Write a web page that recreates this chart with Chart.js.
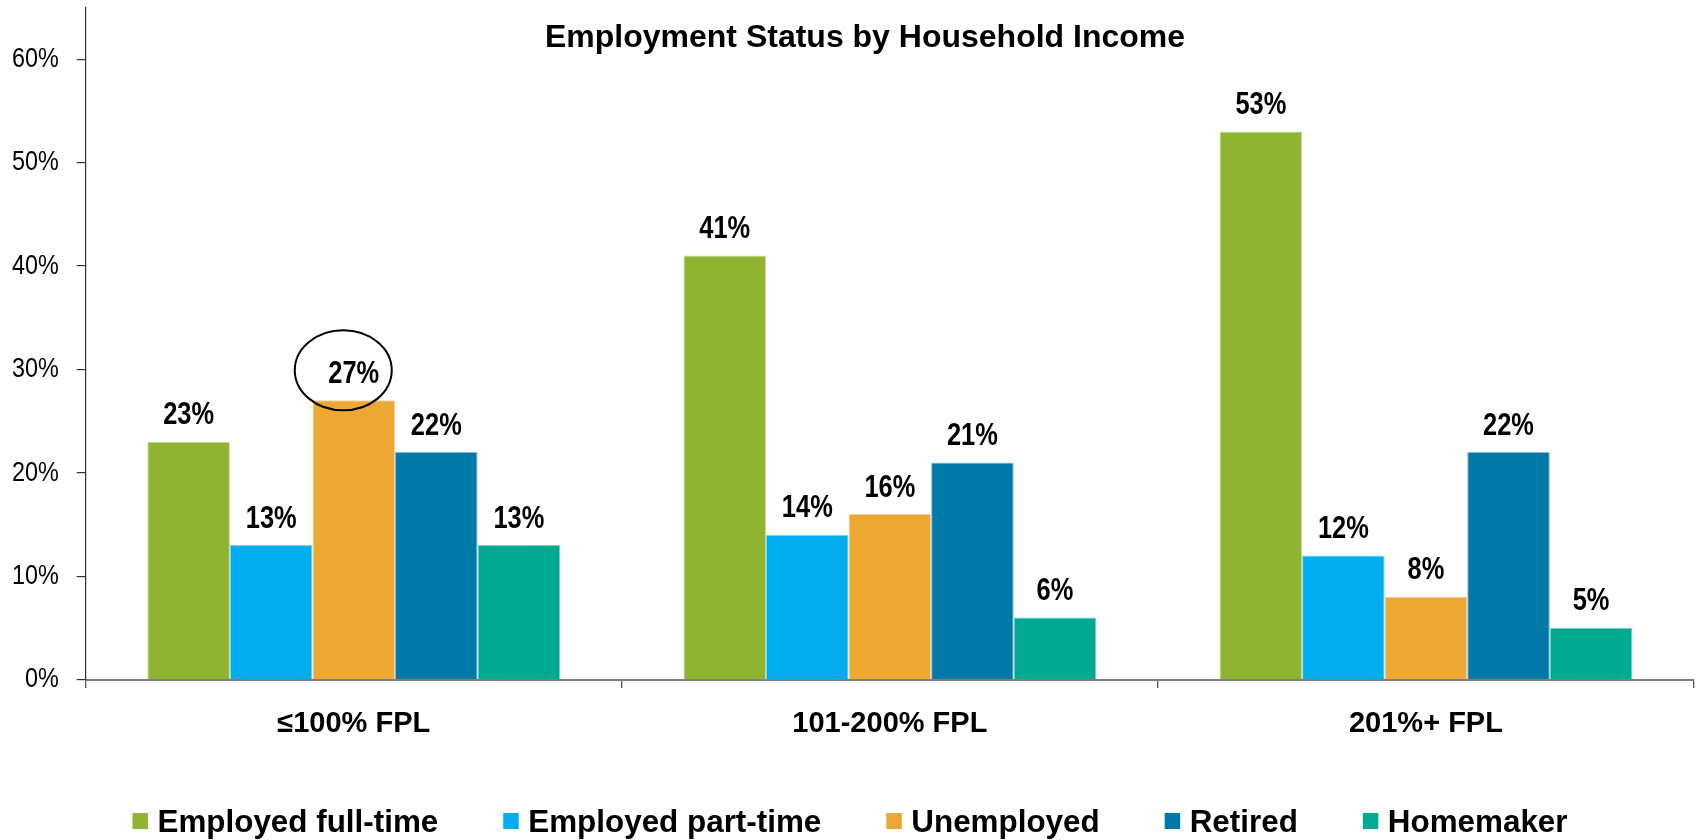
<!DOCTYPE html>
<html>
<head>
<meta charset="utf-8">
<title>Employment Status by Household Income</title>
<script src="https://cdn.jsdelivr.net/npm/chart.js@4.4.1/dist/chart.umd.min.js"></script>
<style>
  html, body { margin: 0; padding: 0; background: #ffffff; }
  #wrap { width: 1700px; height: 840px; }
</style>
</head>
<body>
<div id="wrap"><canvas id="chart" width="1700" height="840"></canvas></div>
<script>
// Income groups along the x axis
const categories = ['≤100% FPL', '101-200% FPL', '201%+ FPL'];

// Share of adults in each employment status, per income group (%)
const employedFullTime = [23, 41, 53];
const employedPartTime = [13, 14, 12];
const unemployed       = [27, 16, 8];
const retired          = [22, 21, 22];
const homemaker        = [13, 6, 5];

const seriesNames  = ['Employed full-time', 'Employed part-time', 'Unemployed', 'Retired', 'Homemaker'];
const seriesValues = [employedFullTime, employedPartTime, unemployed, retired, homemaker];
const seriesColors = ['#8fb432', '#00adee', '#eda733', '#0079a9', '#00a990'];
const seriesEdges  = ['#c8dc98', '#80d6f6', '#f6d399', '#80bcd4', '#80d4c7'];

// Value axis ticks (%)
const yTickValues = [0, 10, 20, 30, 40, 50, 60];

const chartTitle = 'Employment Status by Household Income';

const SANS = "'Liberation Sans', Arial, sans-serif";
// Condensed lettering: regular face squeezed horizontally
const CONDENSE = 0.82;

function drawCondensed(ctx, text, x, y, align) {
  ctx.save();
  ctx.translate(x, y);
  ctx.scale(CONDENSE, 1);
  ctx.textAlign = align;
  ctx.fillText(text, 0, 0);
  ctx.restore();
}

// Bold value above each bar
const valueLabels = {
  id: 'valueLabels',
  afterDatasetsDraw(chart) {
    const ctx = chart.ctx;
    ctx.save();
    ctx.font = "bold 31px " + SANS;
    ctx.fillStyle = '#000000';
    ctx.textBaseline = 'alphabetic';
    chart.data.datasets.forEach((ds, di) => {
      chart.getDatasetMeta(di).data.forEach((bar, i) => {
        drawCondensed(ctx, ds.data[i] + '%', bar.x, bar.y - 17.5, 'center');
      });
    });
    ctx.restore();
  }
};

// Percent labels beside the value axis ticks
const yTickLabels = {
  id: 'yTickLabels',
  afterDraw(chart) {
    const scale = chart.scales.y;
    const ctx = chart.ctx;
    ctx.save();
    ctx.font = "28.5px " + SANS;
    ctx.fillStyle = '#000000';
    ctx.textBaseline = 'middle';
    scale.ticks.forEach(t => {
      drawCondensed(ctx, t.value + '%', scale.right - 9 - 18, scale.getPixelForValue(t.value), 'right');
    });
    ctx.restore();
  }
};

// Circle drawn around the unemployed share of the lowest income group
const highlight = { series: 'Unemployed', index: 0 };
const highlightRing = {
  id: 'highlightRing',
  afterDatasetsDraw(chart) {
    const di = chart.data.datasets.findIndex(d => d.label === highlight.series);
    if (di < 0) return;
    const bar = chart.getDatasetMeta(di).data[highlight.index];
    const ctx = chart.ctx;
    ctx.save();
    ctx.beginPath();
    ctx.ellipse(bar.x - 10.5, bar.y - 30, 48.5, 40, 0, 0, Math.PI * 2);
    ctx.lineWidth = 2;
    ctx.strokeStyle = '#000000';
    ctx.stroke();
    ctx.restore();
  }
};

// Title laid over the top of the plot
const overlayTitle = {
  id: 'overlayTitle',
  afterDraw(chart) {
    const ctx = chart.ctx;
    ctx.save();
    ctx.font = "bold 32px " + SANS;
    ctx.fillStyle = '#000000';
    ctx.textAlign = 'center';
    ctx.textBaseline = 'alphabetic';
    ctx.fillText(chartTitle, chart.width / 2 + 15, 46.5);
    ctx.restore();
  }
};

// Single-row legend along the bottom edge
const bottomLegend = {
  id: 'bottomLegend',
  afterDraw(chart) {
    const ctx = chart.ctx;
    const box = 15.5, gap = 9.5, spacing = 65;
    ctx.save();
    ctx.font = "bold 31.4px " + SANS;
    const items = chart.data.datasets.map(ds => ({
      text: ds.label,
      color: ds.backgroundColor,
      w: ctx.measureText(ds.label).width
    }));
    const total = items.reduce((s, it) => s + box + gap + it.w, 0) + spacing * (items.length - 1);
    let x = chart.width / 2 - total / 2;
    ctx.textBaseline = 'alphabetic';
    ctx.textAlign = 'left';
    items.forEach(it => {
      ctx.fillStyle = it.color;
      ctx.fillRect(x, 813, box, 16);
      ctx.fillStyle = '#000000';
      ctx.fillText(it.text, x + box + gap, 832);
      x += box + gap + it.w + spacing;
    });
    ctx.restore();
  }
};

const datasets = seriesNames.map((name, i) => ({
  label: name,
  data: seriesValues[i],
  backgroundColor: seriesColors[i],
  borderColor: seriesEdges[i],
  borderWidth: { top: 1, left: 1, right: 1, bottom: 0 },
  borderSkipped: 'bottom',
  barPercentage: 1.0,
  categoryPercentage: 0.77
}));

new Chart(document.getElementById('chart'), {
  type: 'bar',
  data: { labels: categories, datasets },
  plugins: [valueLabels, highlightRing, yTickLabels, overlayTitle, bottomLegend],
  options: {
    responsive: false,
    animation: false,
    layout: { padding: { top: 7.5, right: 6, bottom: 0, left: 0 } },
    plugins: {
      legend: { display: false },
      title: { display: false },
      tooltip: { enabled: false }
    },
    scales: {
      x: {
        z: 1,
        offset: true,
        border: { display: true, color: '#808080', width: 2 },
        grid: {
          offset: true,
          drawOnChartArea: false,
          drawTicks: true,
          tickLength: 8.5,
          color: '#555555',
          lineWidth: 1.3
        },
        ticks: {
          color: '#000000',
          padding: 19,
          font: { family: SANS, size: 29, weight: 'bold' },
          maxRotation: 0,
          autoSkip: false
        },
        afterFit(scale) {
          scale.height = 160.5;
          scale.paddingLeft = 0;
          scale.paddingRight = 0;
        }
      },
      y: {
        min: 0,
        max: 65,
        border: { display: true, color: '#333333', width: 1.2 },
        grid: {
          drawOnChartArea: false,
          drawTicks: true,
          tickLength: 9,
          color: '#333333',
          lineWidth: 1.2
        },
        ticks: { display: false },
        afterBuildTicks(scale) {
          scale.ticks = yTickValues.map(v => ({ value: v }));
        },
        afterFit(scale) {
          scale.width = 85.7;
          scale.paddingTop = 0;
          scale.paddingBottom = 0;
        }
      }
    }
  }
});
</script>
</body>
</html>
